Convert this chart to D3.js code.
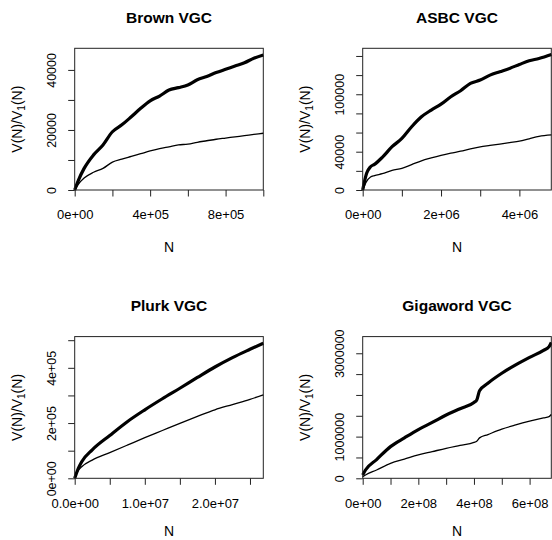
<!DOCTYPE html>
<html>
<head>
<meta charset="utf-8">
<script src="https://cdn.jsdelivr.net/npm/d3@7"></script>
<style>
  body { margin: 0; background: #fff; }
  text { font-family: "Liberation Sans", Arial, Helvetica, sans-serif; fill: #000; }
</style>
</head>
<body>
<svg id="chart" width="552" height="540"></svg>
<script>
// Brown corpus
const brownN  = [0, 2e4, 5e4, 1e5, 1.5e5, 2e5, 2.5e5, 3e5, 3.5e5, 4e5, 4.5e5, 5e5, 5.5e5, 6e5, 6.5e5, 7e5, 7.5e5, 8e5, 8.5e5, 9e5, 9.5e5, 1e6]
const brownV  = [0, 3300, 7200, 11700, 15000, 19400, 21700, 24400, 27200, 29700, 31300, 33300, 34100, 35000, 36700, 37800, 39100, 40200, 41300, 42400, 43900, 45000]
const brownV1 = [0, 2000, 4000, 5900, 7200, 9300, 10300, 11200, 12100, 13000, 13800, 14400, 15000, 15300, 15900, 16400, 16900, 17300, 17700, 18100, 18500, 18900]

// ASBC corpus
const asbcN  = [0, 1e5, 2e5, 3e5, 5e5, 7.5e5, 1e6, 1.25e6, 1.5e6, 1.75e6, 2e6, 2.25e6, 2.5e6, 2.75e6, 3e6, 3.25e6, 3.5e6, 3.75e6, 4e6, 4.25e6, 4.5e6, 4.82e6]
const asbcV  = [0, 17400, 24300, 26800, 34100, 45200, 53900, 66100, 76500, 83500, 89700, 97400, 103700, 111300, 114800, 120000, 123500, 127000, 131100, 135000, 137400, 141600]
const asbcV1 = [0, 9000, 13500, 15000, 17000, 20500, 22600, 26500, 30500, 33500, 36200, 38500, 40500, 43000, 45000, 46500, 48000, 49500, 51000, 53500, 56000, 57500]

// Plurk corpus
const plurkN  = [0, 5e5, 1e6, 2.5e6, 5e6, 7.5e6, 1e7, 1.25e7, 1.5e7, 1.75e7, 2e7, 2.25e7, 2.5e7, 2.69e7]
const plurkV  = [0, 35000, 60000, 103000, 155000, 205000, 248000, 288000, 326000, 365000, 403000, 437000, 467000, 489000]
const plurkV1 = [0, 28000, 42000, 66000, 93000, 120000, 147000, 173000, 199000, 224000, 248000, 267000, 286000, 302000]

// Gigaword corpus
const gigaN  = [0, 1e7, 5e7, 1e8, 1.5e8, 2e8, 2.5e8, 3e8, 3.5e8, 4e8, 4.1e8, 4.2e8, 4.5e8, 5e8, 5.5e8, 6e8, 6.5e8, 6.7e8, 6.78e8]
const gigaV  = [80000, 200000, 450000, 760000, 970000, 1170000, 1340000, 1520000, 1670000, 1820000, 1880000, 2100000, 2280000, 2520000, 2720000, 2900000, 3070000, 3160000, 3260000]
const gigaV1 = [40000, 80000, 200000, 360000, 460000, 560000, 640000, 720000, 790000, 860000, 890000, 970000, 1050000, 1180000, 1280000, 1370000, 1450000, 1480000, 1530000]

const titles = ['Brown VGC', 'ASBC VGC', 'Plurk VGC', 'Gigaword VGC']

// tick values and their labels ('' = tick without label)
const brownXTicks = [0, 2e5, 4e5, 6e5, 8e5, 1e6]
const brownXLabels = ['0e+00', '', '4e+05', '', '8e+05', '']
const brownYTicks = [0, 10000, 20000, 30000, 40000]
const brownYLabels = ['0', '', '20000', '', '40000']

const asbcXTicks = [0, 1e6, 2e6, 3e6, 4e6]
const asbcXLabels = ['0e+00', '', '2e+06', '', '4e+06']
const asbcYTicks = [0, 20000, 40000, 60000, 80000, 100000, 120000, 140000]
const asbcYLabels = ['0', '', '40000', '', '', '100000', '', '']

const plurkXTicks = [0, 5e6, 1e7, 1.5e7, 2e7, 2.5e7]
const plurkXLabels = ['0.0e+00', '', '1.0e+07', '', '2.0e+07', '']
const plurkYTicks = [0, 1e5, 2e5, 3e5, 4e5, 5e5]
const plurkYLabels = ['0e+00', '', '2e+05', '', '4e+05', '']

const gigaXTicks = [0, 1e8, 2e8, 3e8, 4e8, 5e8, 6e8]
const gigaXLabels = ['0e+00', '', '2e+08', '', '4e+08', '', '6e+08']
const gigaYTicks = [0, 5e5, 1e6, 1.5e6, 2e6, 2.5e6, 3e6]
const gigaYLabels = ['0', '', '1000000', '', '', '', '3000000']

const panels = [
  { title: titles[0], N: brownN, V: brownV, V1: brownV1, xMax: 1.0e6, yMax: 47200,
    xTicks: brownXTicks, xLabels: brownXLabels, yTicks: brownYTicks, yLabels: brownYLabels },
  { title: titles[1], N: asbcN, V: asbcV, V1: asbcV1, xMax: 4.815e6, yMax: 148000,
    xTicks: asbcXTicks, xLabels: asbcXLabels, yTicks: asbcYTicks, yLabels: asbcYLabels },
  { title: titles[2], N: plurkN, V: plurkV, V1: plurkV1, xMax: 2.69e7, yMax: 513000,
    xTicks: plurkXTicks, xLabels: plurkXLabels, yTicks: plurkYTicks, yLabels: plurkYLabels },
  { title: titles[3], N: gigaN, V: gigaV, V1: gigaV1, xMax: 6.78e8, yMax: 3400000,
    xTicks: gigaXTicks, xLabels: gigaXLabels, yTicks: gigaYTicks, yLabels: gigaYLabels }
]

const cellW = 288, cellH = 288.3
const plotL = 74.7, plotR = 263.3, plotT = 48.3, plotB = 190

const svg = d3.select('#chart')

panels.forEach((p, i) => {
  const col = i % 2, row = Math.floor(i / 2)
  const g = svg.append('g')
    .attr('transform', `translate(${col * cellW},${row * cellH})`)

  const x = d3.scaleLinear().domain([0, p.xMax]).range([plotL, plotR])
  const y = d3.scaleLinear().domain([0, p.yMax]).range([plotB, plotT])

  const line = d3.line()
    .x((d, j) => x(p.N[j]))
    .y(d => y(d))
    .curve(d3.curveMonotoneX)

  // V1(N) thin, V(N) thick
  g.append('path')
    .attr('d', line(p.V1))
    .attr('fill', 'none')
    .attr('stroke', '#000')
    .attr('stroke-width', 1.3)
    .attr('stroke-linejoin', 'round')

  g.append('path')
    .attr('d', line(p.V))
    .attr('fill', 'none')
    .attr('stroke', '#000')
    .attr('stroke-width', 3.2)
    .attr('stroke-linejoin', 'round')

  // box
  g.append('rect')
    .attr('x', plotL)
    .attr('y', plotT)
    .attr('width', plotR - plotL)
    .attr('height', plotB - plotT)
    .attr('fill', 'none')
    .attr('stroke', '#222')
    .attr('stroke-width', 1)

  // x axis
  const xa = g.append('g')
    .attr('transform', `translate(0,${plotB})`)
    .call(d3.axisBottom(x)
      .tickValues(p.xTicks)
      .tickFormat((d, j) => p.xLabels[j])
      .tickSize(6.5)
      .tickPadding(13.5))
  xa.select('.domain').remove()
  xa.attr('font-size', 13).attr('font-family', null)
  xa.selectAll('line').attr('stroke', '#222')

  // y axis
  const ya = g.append('g')
    .attr('transform', `translate(${plotL},0)`)
    .call(d3.axisLeft(y)
      .tickValues(p.yTicks)
      .tickFormat((d, j) => p.yLabels[j])
      .tickSize(6.5))
  ya.select('.domain').remove()
  ya.attr('font-size', 12.5).attr('font-family', null)
  ya.selectAll('line').attr('stroke', '#222')
  ya.selectAll('text')
    .attr('x', null)
    .attr('dy', null)
    .attr('text-anchor', 'middle')
    .attr('transform', 'translate(-18.7,0) rotate(-90)')

  // title
  g.append('text')
    .attr('x', (plotL + plotR) / 2)
    .attr('y', 23)
    .attr('text-anchor', 'middle')
    .attr('font-size', 15.5)
    .attr('font-weight', 'bold')
    .text(p.title)

  // axis titles
  g.append('text')
    .attr('x', (plotL + plotR) / 2)
    .attr('y', row === 0 ? 251.7 : 248)
    .attr('text-anchor', 'middle')
    .attr('font-size', 14)
    .text('N')

  const yl = g.append('text')
    .attr('transform', `translate(22,${(plotT + plotB) / 2}) rotate(-90)`)
    .attr('text-anchor', 'middle')
    .attr('font-size', 14)
  yl.append('tspan').text('V(N)/V')
  yl.append('tspan').attr('font-size', 10).attr('dy', 3).text('1')
  yl.append('tspan').attr('dy', -3).text('(N)')
})
</script>
</body>
</html>
